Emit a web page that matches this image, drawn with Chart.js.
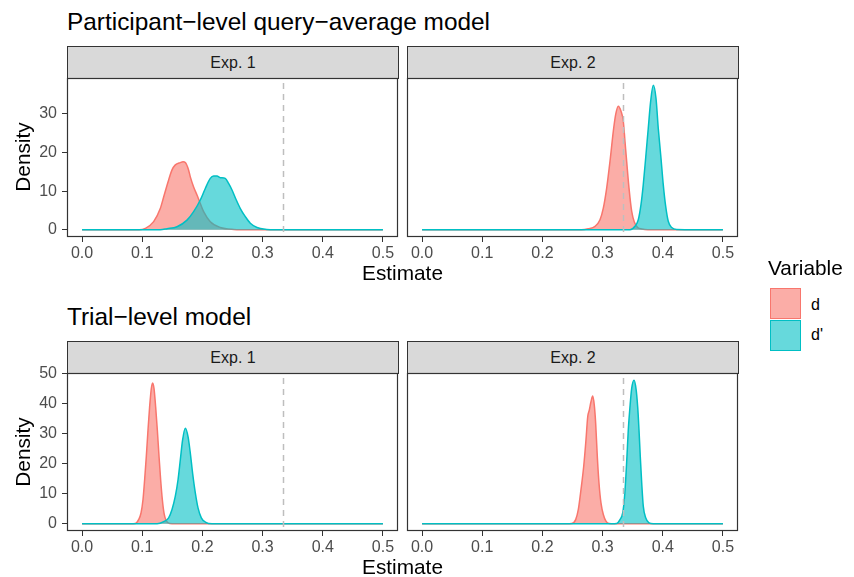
<!DOCTYPE html>
<html>
<head>
<meta charset="utf-8">
<script src="https://cdn.jsdelivr.net/npm/chart.js@4.4.0/dist/chart.umd.min.js"></script>
<style>
  body { margin: 0; width: 854px; height: 577px; background: #fff; position: relative; overflow: hidden;
         font-family: "Liberation Sans", Arial, sans-serif; }
  .abs { position: absolute; white-space: nowrap; }
  .title { font-size: 24.4px; line-height: 24px; color: #000; left: 67px; }
  .strip { background: #d9d9d9; border: 1px solid #333; box-sizing: border-box; height: 33px; width: 332px;
           font-size: 16px; color: #1a1a1a; text-align: center; line-height: 31px; }
  .axtitle { font-size: 20.8px; line-height: 20px; color: #000; text-align: center; }
  .ylab { width: 200px; height: 20px; transform: rotate(-90deg); }
  .panel { position: absolute; }
  .key { position: absolute; left: 770px; width: 31px; height: 31px; box-sizing: border-box; border: 1.5px solid; }
  .keytxt { font-size: 16px; line-height: 16px; color: #000; left: 811px; }
</style>
</head>
<body>

<div class="abs title" style="top:10px">Participant−level query−average model</div>
<div class="abs title" style="top:305px">Trial−level model</div>

<div class="abs strip" style="left:67px;top:46px">Exp. 1</div>
<div class="abs strip" style="left:407px;top:46px">Exp. 2</div>
<div class="abs strip" style="left:67px;top:341px">Exp. 1</div>
<div class="abs strip" style="left:407px;top:341px">Exp. 2</div>

<div class="panel" style="left:20px;top:64px;width:382px;height:202px"><canvas id="qa1"></canvas></div>
<div class="panel" style="left:403px;top:64px;width:339px;height:202px"><canvas id="qa2"></canvas></div>
<div class="panel" style="left:20px;top:359px;width:382px;height:201px"><canvas id="tr1"></canvas></div>
<div class="panel" style="left:403px;top:359px;width:339px;height:201px"><canvas id="tr2"></canvas></div>

<div class="abs axtitle" style="left:302px;top:263px;width:201px">Estimate</div>
<div class="abs axtitle" style="left:302px;top:557px;width:201px">Estimate</div>
<div class="abs axtitle ylab" style="left:-77px;top:147px">Density</div>
<div class="abs axtitle ylab" style="left:-77px;top:442px">Density</div>

<div class="abs axtitle" style="left:768px;top:258px;text-align:left">Variable</div>
<div class="key" style="top:288px;background:rgba(248,118,109,0.6);border-color:#F8766D"></div>
<div class="key" style="top:320px;background:rgba(0,191,196,0.6);border-color:#00BFC4"></div>
<div class="abs keytxt" style="top:297px">d</div>
<div class="abs keytxt" style="top:327px">d'</div>

<script>
// tick values
const xTicks = [0, 0.1, 0.2, 0.3, 0.4, 0.5];
const yTicksTop = [0, 10, 20, 30];
const yTicksBottom = [0, 10, 20, 30, 40, 50];
const refLine = 1 / 3;

// Participant-level query-average model, Exp. 1
const qa1X_d = [0, 0.095, 0.1051, 0.119, 0.130, 0.1356, 0.1439, 0.1495, 0.155, 0.1633, 0.1678, 0.1716, 0.177, 0.1799, 0.1854, 0.191, 0.1965, 0.202, 0.2131, 0.2297, 0.252, 0.28, 0.5];
const qa1Y_d = [0, 0, 0.36, 2.1, 5.5, 8.5, 12.9, 15.5, 16.8, 17.4, 17.6, 17.4, 15.5, 13.7, 11.1, 9.0, 6.8, 4.7, 2.1, 0.6, 0.1, 0, 0];
const qa1X_dp = [0, 0.13, 0.1412, 0.1578, 0.1744, 0.1854, 0.1965, 0.2048, 0.2131, 0.2186, 0.2243, 0.2297, 0.238, 0.2435, 0.2492, 0.2563, 0.263, 0.2713, 0.2796, 0.2907, 0.307, 0.32, 0.5];
const qa1Y_dp = [0, 0, 0.27, 0.8, 2.5, 4.7, 7.7, 10.7, 13.3, 13.9, 13.9, 13.5, 13.3, 12.0, 10.3, 7.7, 5.5, 3.4, 1.7, 0.6, 0.1, 0, 0];

// Participant-level query-average model, Exp. 2
const qa2X_d = [0, 0.265, 0.2763, 0.2874, 0.2957, 0.3012, 0.3068, 0.3123, 0.3178, 0.3217, 0.3261, 0.3306, 0.3344, 0.3372, 0.340, 0.3439, 0.3483, 0.3527, 0.3583, 0.365, 0.375, 0.5];
const qa2Y_d = [0, 0, 0.27, 0.9, 2.6, 5.6, 10.8, 17.7, 25.5, 29.8, 32.0, 30.7, 28.1, 22.9, 17.7, 10.8, 4.8, 2.0, 0.6, 0.2, 0, 0];
const qa2X_dp = [0, 0.3455, 0.3538, 0.3593, 0.3638, 0.3676, 0.3716, 0.3759, 0.3799, 0.3842, 0.3887, 0.3925, 0.397, 0.4008, 0.4048, 0.4091, 0.4148, 0.423, 0.5];
const qa2Y_dp = [0, 0, 0.9, 2.6, 6.5, 11.7, 18.6, 26.3, 33.3, 37.4, 34.1, 26.3, 18.6, 11.7, 6.1, 2.2, 0.6, 0.1, 0];

// Trial-level model, Exp. 1
const tr1X_d = [0, 0.08, 0.0885, 0.094, 0.098, 0.1013, 0.104, 0.1068, 0.1096, 0.1123, 0.1151, 0.1173, 0.1196, 0.1223, 0.1251, 0.1279, 0.1306, 0.1334, 0.1362, 0.1395, 0.1455, 0.155, 0.5];
const tr1Y_d = [0, 0, 0.1, 1.4, 3.6, 8.1, 14.7, 22.5, 31.3, 39.0, 45.1, 47.0, 45.1, 39.0, 31.3, 22.5, 14.7, 8.1, 3.6, 1.2, 0.1, 0, 0];
const tr1X_dp = [0, 0.1246, 0.1356, 0.1439, 0.1495, 0.155, 0.1595, 0.1633, 0.1671, 0.1716, 0.1761, 0.1799, 0.1837, 0.1882, 0.1927, 0.1982, 0.2048, 0.216, 0.5];
const tr1Y_dp = [0, 0, 0.7, 2.0, 4.8, 9.2, 14.7, 21.3, 28.0, 31.9, 29.1, 23.6, 16.9, 10.3, 5.3, 2.0, 0.6, 0, 0];

// Trial-level model, Exp. 2
const tr2X_d = [0, 0.24, 0.2486, 0.2553, 0.2597, 0.2641, 0.2686, 0.2724, 0.2753, 0.2779, 0.2807, 0.2835, 0.2862, 0.2885, 0.2912, 0.294, 0.2973, 0.3012, 0.3056, 0.3106, 0.32, 0.5];
const tr2Y_d = [0, 0, 0.1, 1.4, 4.8, 11.4, 19.1, 28.0, 35.7, 37.9, 40.7, 42.6, 39.6, 33.5, 22.5, 13.6, 7.0, 3.1, 0.9, 0.1, 0, 0];
const tr2X_dp = [0, 0.315, 0.3234, 0.3289, 0.3334, 0.3361, 0.3384, 0.3405, 0.3427, 0.3455, 0.3483, 0.3522, 0.3555, 0.3583, 0.3605, 0.3626, 0.365, 0.3676, 0.3716, 0.3771, 0.3842, 0.5];
const tr2Y_dp = [0, 0, 0.1, 1.4, 3.6, 8.1, 14.7, 22.5, 31.3, 39.0, 45.1, 47.9, 45.1, 39.0, 31.3, 22.5, 13.6, 5.9, 2.0, 0.3, 0, 0];

const red = '#F8766D', redFill = 'rgba(248,118,109,0.6)';
const teal = '#00BFC4', tealFill = 'rgba(0,191,196,0.6)';

Chart.defaults.font.family = '"Liberation Sans", Arial, sans-serif';

function toPoints(xs, ys) {
  return xs.map((x, i) => ({ x: x, y: ys[i] }));
}

// panel border + dashed reference line
const panelDeco = {
  id: 'panelDeco',
  afterDatasetsDraw(chart) {
    const c = chart.ctx, a = chart.chartArea;
    const px = Math.round(chart.scales.x.getPixelForValue(refLine)) + 0.5;
    c.save();
    c.strokeStyle = '#bebebe';
    c.lineWidth = 1.5;
    c.setLineDash([6, 5]);
    c.beginPath();
    c.moveTo(px, a.top + 5);
    c.lineTo(px, a.bottom);
    c.stroke();
    c.restore();
  },
  afterDraw(chart) {
    const c = chart.ctx, a = chart.chartArea;
    c.save();
    c.strokeStyle = '#333333';
    c.lineWidth = 1.2;
    c.strokeRect(Math.round(a.left) + 0.5, Math.round(a.top) + 0.5,
                 Math.round(a.right - a.left) - 1, Math.round(a.bottom - a.top) - 1);
    c.restore();
  }
};

function makePanel(id, dX, dY, pX, pY, yMin, yMax, yTicks, showY) {
  new Chart(document.getElementById(id), {
    type: 'line',
    data: {
      datasets: [
        { label: 'd', data: toPoints(dX, dY), borderColor: red, backgroundColor: redFill, fill: 'origin', order: 1 },
        { label: "d'", data: toPoints(pX, pY), borderColor: teal, backgroundColor: tealFill, fill: 'origin', order: 0 }
      ]
    },
    options: {
      responsive: true,
      maintainAspectRatio: false,
      animation: false,
      layout: { padding: { left: showY ? 0 : 4, top: 14, right: 4, bottom: 0 } },
      elements: {
        point: { radius: 0 },
        line: { borderWidth: 1.5, cubicInterpolationMode: 'monotone' }
      },
      plugins: { legend: { display: false }, tooltip: { enabled: false } },
      scales: {
        x: {
          type: 'linear', min: -0.025, max: 0.525,
          afterBuildTicks: axis => { axis.ticks = xTicks.map(v => ({ value: v })); },
          afterFit: scale => { scale.height = 29; scale.paddingLeft = 0; scale.paddingRight = 0; },
          ticks: { callback: v => v.toFixed(1), color: '#4d4d4d', font: { size: 16 }, padding: 2, maxRotation: 0, autoSkip: false },
          grid: { drawOnChartArea: false, color: '#333333', tickLength: 5 },
          border: { display: false }
        },
        y: {
          type: 'linear', min: yMin, max: yMax, display: showY,
          afterBuildTicks: axis => { axis.ticks = yTicks.map(v => ({ value: v })); },
          afterFit: scale => {
            scale.width = showY ? 47 : 0;
            scale.paddingTop = 0;
            scale.paddingBottom = 0;
          },
          ticks: { callback: v => String(v), color: '#4d4d4d', font: { size: 16 }, padding: 5, autoSkip: false },
          grid: { drawOnChartArea: false, color: '#333333', tickLength: 5 },
          border: { display: false }
        }
      }
    },
    plugins: [panelDeco]
  });
}

makePanel('qa1', qa1X_d, qa1Y_d, qa1X_dp, qa1Y_dp, -1.87, 39.3, yTicksTop, true);
makePanel('qa2', qa2X_d, qa2Y_d, qa2X_dp, qa2Y_dp, -1.87, 39.3, yTicksTop, false);
makePanel('tr1', tr1X_d, tr1Y_d, tr1X_dp, tr1Y_dp, -2.4, 50.3, yTicksBottom, true);
makePanel('tr2', tr2X_d, tr2Y_d, tr2X_dp, tr2Y_dp, -2.4, 50.3, yTicksBottom, false);
</script>
</body>
</html>
